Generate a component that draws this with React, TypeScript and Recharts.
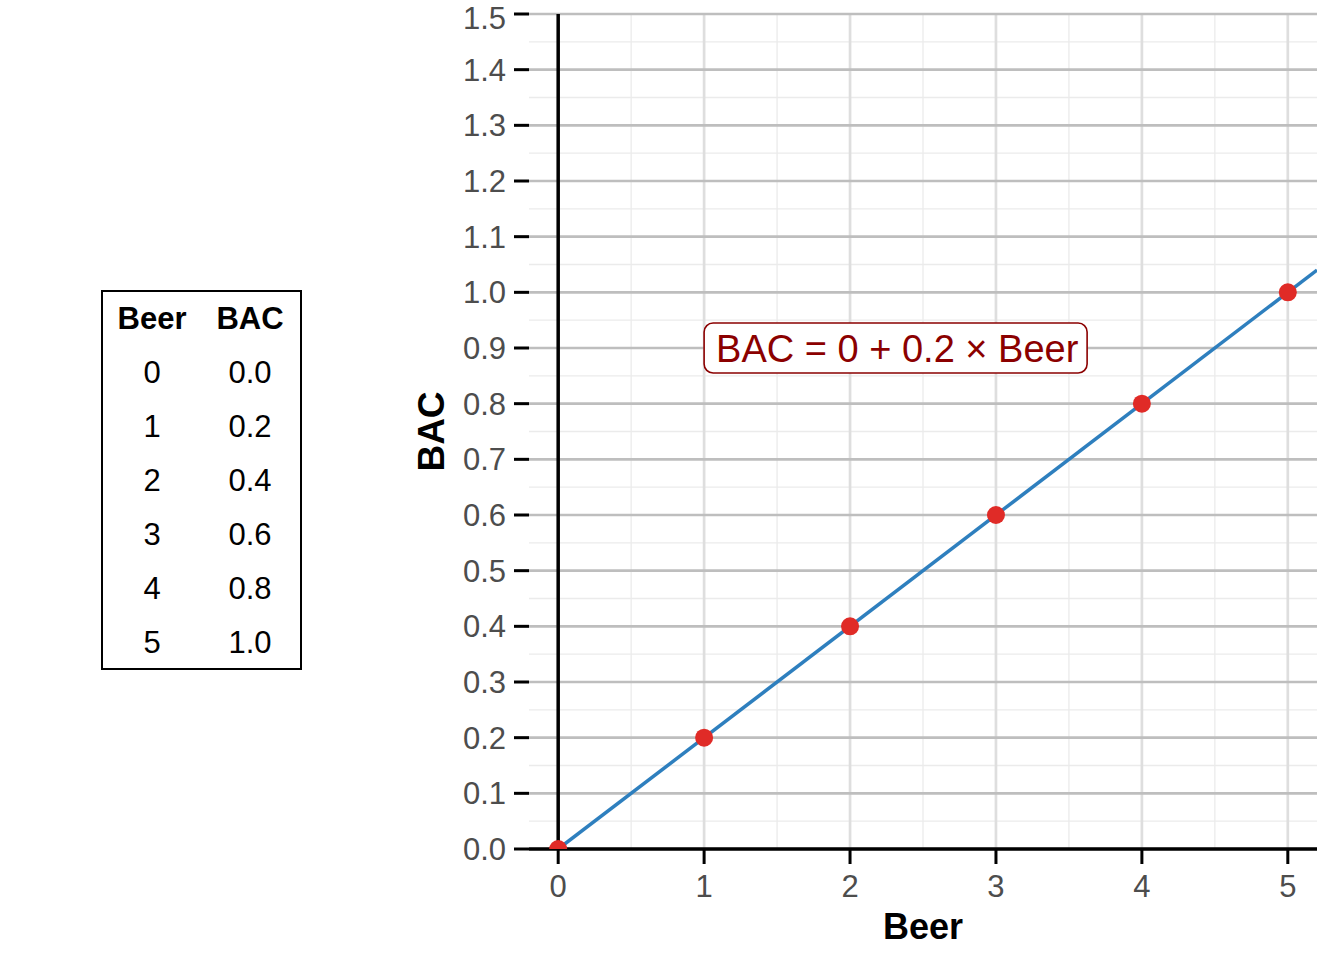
import React from "react";
import {
  ScatterChart,
  Scatter,
  XAxis,
  YAxis,
  ReferenceLine,
  ReferenceDot,
  Label,
} from "recharts";

// data
const beer = [0, 1, 2, 3, 4, 5];
const bac = [0.0, 0.2, 0.4, 0.6, 0.8, 1.0];
const intercept = 0;
const slope = 0.2;

const xTicks = [0, 1, 2, 3, 4, 5];
const xMinor = [0.5, 1.5, 2.5, 3.5, 4.5];
const yTicks = [0, 0.1, 0.2, 0.3, 0.4, 0.5, 0.6, 0.7, 0.8, 0.9, 1.0, 1.1, 1.2, 1.3, 1.4, 1.5];
const yMinor = [0.05, 0.15, 0.25, 0.35, 0.45, 0.55, 0.65, 0.75, 0.85, 0.95, 1.05, 1.15, 1.25, 1.35, 1.45];
const xDomain = [-0.2, 5.2];
const yDomain = [0, 1.5];
const annotation = "BAC = 0 + 0.2 × Beer";

const points = beer.map((b, i) => ({ beer: b, bac: bac[i] }));

const FONT = '"Liberation Sans", Arial, sans-serif';
const tickStyle = { fill: "#4d4d4d", fontSize: 31, fontFamily: FONT };

function BacTable() {
  const cell = (bold: boolean): React.CSSProperties => ({
    width: 98,
    height: 54,
    display: "flex",
    alignItems: "center",
    justifyContent: "center",
    fontSize: 31,
    fontWeight: bold ? 700 : 400,
    color: "#000",
  });
  return (
    <div
      style={{
        position: "absolute",
        left: 101,
        top: 290,
        width: 201,
        height: 380,
        boxSizing: "border-box",
        border: "2px solid #000",
        fontFamily: FONT,
      }}
    >
      <div style={{ display: "flex" }}>
        <div style={cell(true)}>Beer</div>
        <div style={cell(true)}>BAC</div>
      </div>
      {beer.map((b, i) => (
        <div key={b} style={{ display: "flex" }}>
          <div style={cell(false)}>{b}</div>
          <div style={cell(false)}>{bac[i].toFixed(1)}</div>
        </div>
      ))}
    </div>
  );
}

function AnnotationBox(props: any) {
  const { cx, cy } = props;
  if (cx == null || cy == null) return null;
  return (
    <g>
      <rect
        x={cx}
        y={cy - 25}
        width={383}
        height={50}
        rx={9}
        fill="#fff"
        stroke="#8b0000"
        strokeWidth={1.6}
      />
      <text
        x={cx + 12}
        y={cy + 14}
        fontSize={38}
        fill="#8b0000"
        fontFamily={FONT}
      >
        {annotation}
      </text>
    </g>
  );
}

export default function App() {
  return (
    <div
      style={{
        position: "absolute",
        left: 0,
        top: 0,
        width: 1344,
        height: 960,
        background: "#fff",
        fontFamily: FONT,
      }}
    >
      <BacTable />
      <ScatterChart
        width={1344}
        height={960}
        margin={{ top: 14, right: 27, bottom: 0, left: 399 }}
      >
        <XAxis
          type="number"
          dataKey="beer"
          domain={xDomain}
          ticks={xTicks}
          allowDataOverflow
          axisLine={false}
          tickLine={{ stroke: "#000", strokeWidth: 3 }}
          tickSize={15}
          tickMargin={11}
          tick={tickStyle}
          height={111}
        >
          <Label
            content={(p: any) => {
              const vb = p.viewBox || { x: 529, y: 849, width: 788 };
              return (
                <text
                  x={vb.x + vb.width / 2}
                  y={vb.y + 90}
                  textAnchor="middle"
                  fontSize={36}
                  fontWeight={700}
                  fill="#000"
                  fontFamily={FONT}
                >
                  Beer
                </text>
              );
            }}
          />
        </XAxis>
        <YAxis
          type="number"
          dataKey="bac"
          domain={yDomain}
          ticks={yTicks}
          allowDataOverflow
          axisLine={false}
          tickLine={{ stroke: "#000", strokeWidth: 3 }}
          tickSize={15}
          tickMargin={8}
          tick={tickStyle}
          tickFormatter={(v: number) => v.toFixed(1)}
          width={130}
        >
          <Label
            content={(p: any) => {
              const vb = p.viewBox || { x: 399, y: 14, height: 835 };
              const x = vb.x + 45;
              const y = vb.y + vb.height / 2;
              return (
                <text
                  x={x}
                  y={y}
                  transform={`rotate(-90, ${x}, ${y})`}
                  textAnchor="middle"
                  fontSize={37}
                  fontWeight={700}
                  fill="#000"
                  fontFamily={FONT}
                >
                  BAC
                </text>
              );
            }}
          />
        </YAxis>

        {yMinor.map((v) => (
          <ReferenceLine key={`ym${v}`} y={v} stroke="#ebebeb" strokeWidth={1.3} />
        ))}
        {xMinor.map((v) => (
          <ReferenceLine key={`xm${v}`} x={v} stroke="#ebebeb" strokeWidth={1.3} />
        ))}
        {xTicks.map((v) => (
          <ReferenceLine key={`xM${v}`} x={v} stroke="#dedede" strokeWidth={2.7} />
        ))}
        {yTicks.map((v) => (
          <ReferenceLine key={`yM${v}`} y={v} stroke="#bebebe" strokeWidth={2.7} />
        ))}
        <ReferenceLine x={0} stroke="#000" strokeWidth={3.5} />
        <ReferenceLine y={0} stroke="#000" strokeWidth={3.5} />
        <ReferenceLine
          ifOverflow="hidden"
          segment={[
            { x: 0, y: intercept },
            { x: xDomain[1], y: intercept + slope * xDomain[1] },
          ]}
          stroke="#2e7fbe"
          strokeWidth={3.5}
        />
        <Scatter
          data={points}
          fill="#e02b27"
          isAnimationActive={false}
          shape={(p: any) => <circle cx={p.cx} cy={p.cy} r={9} fill="#e02b27" />}
        />
        <ReferenceDot
          x={1}
          y={0.9}
          r={0}
          ifOverflow="visible"
          shape={(p: any) => <AnnotationBox {...p} />}
        />
      </ScatterChart>
    </div>
  );
}
